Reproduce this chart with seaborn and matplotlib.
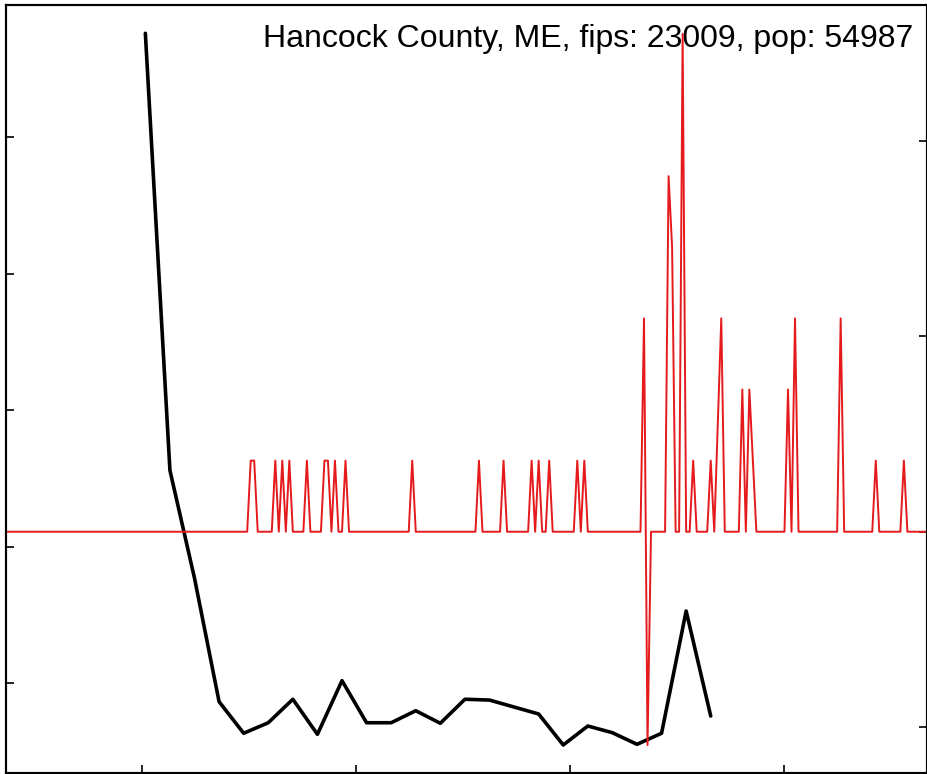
import seaborn as sns
import matplotlib.pyplot as plt
import matplotlib.dates as mdates
import pandas as pd

county = "Hancock County, ME"
fips = 23009
pop = 54987

# weekly values (black line, left axis), one point every 7 days
week_first = "2020-04-02"
weekly = [57.6, 25.6, 17.7, 8.66, 6.35, 7.12, 8.84, 6.27, 10.2, 7.12, 7.12, 8.0,
          7.08, 8.84, 8.78, 8.27, 7.76, 5.49, 6.88, 6.39, 5.54, 6.35, 15.3, 7.61]

# daily new deaths (red line, right axis); days counted from day_zero, all other days are 0
day_zero = "2020-05-02"
death_days = [0, 1, 7, 9, 11, 16, 21, 22, 24, 27, 46, 65, 72, 80, 82, 85, 93, 95,
              112, 113, 119, 120, 123, 126, 131, 133, 134, 140, 142, 143, 153, 155,
              168, 178, 186]
death_counts = [1, 1, 1, 1, 1, 1, 1, 1, 1, 1, 1, 1, 1, 1, 1, 1, 1, 1,
                3, -3, 5, 4, 7, 1, 1, 1.5, 3, 2, 2, 1, 2, 3,
                3, 1, 1]

d0 = pd.Timestamp(day_zero)

wk = pd.DataFrame({
    "date": pd.date_range(week_first, periods=len(weekly), freq="7D"),
    "value": weekly,
})

daily = pd.DataFrame({"date": pd.date_range("2020-02-01", "2020-11-30", freq="D")})
daily["deaths"] = 0.0
for d, c in zip(death_days, death_counts):
    daily.loc[daily["date"] == d0 + pd.Timedelta(days=d), "deaths"] = c
daily["per100k"] = daily["deaths"] * 100000 / pop

sns.set_style("white")
plt.rcParams["font.family"] = ["Liberation Sans", "DejaVu Sans"]

fig = plt.figure(figsize=(9.28, 7.74), dpi=100)
ax = fig.add_axes([6 / 928, 1 / 774, 920.7 / 928, 768 / 774])
ax2 = ax.twinx()

sns.lineplot(data=wk, x="date", y="value", ax=ax, color="black", linewidth=2.6)
sns.lineplot(data=daily, x="date", y="per100k", ax=ax2, color="#e41a1c", linewidth=1.4)

ax.set_xlim(d0 + pd.Timedelta(days=-69.68), d0 + pd.Timedelta(days=192.5))
ax.set_ylim(3.44, 59.67)
ax2.set_ylim(-6.17, 13.47)

ax.xaxis.set_major_locator(mdates.MonthLocator(bymonth=[4, 6, 8, 10]))
ax.set_yticks([10, 20, 30, 40, 50])
ax2.set_yticks([-5, 0, 5, 10])

for a in (ax, ax2):
    a.set_xlabel("")
    a.set_ylabel("")
    a.tick_params(direction="in", length=6, width=1.2, color="black",
                  labelbottom=False, labelleft=False, labelright=False)
    for sp in a.spines.values():
        sp.set_color("black")
        sp.set_linewidth(1.5)
ax.tick_params(axis="x", bottom=True)
ax.tick_params(axis="y", left=True)
ax2.tick_params(axis="y", right=True)

ax.text(0.985, 0.975, f"{county}, fips: {fips}, pop: {pop}", transform=ax.transAxes,
        ha="right", va="top", fontsize=23, color="black")

fig.savefig("out.png", dpi=100)
